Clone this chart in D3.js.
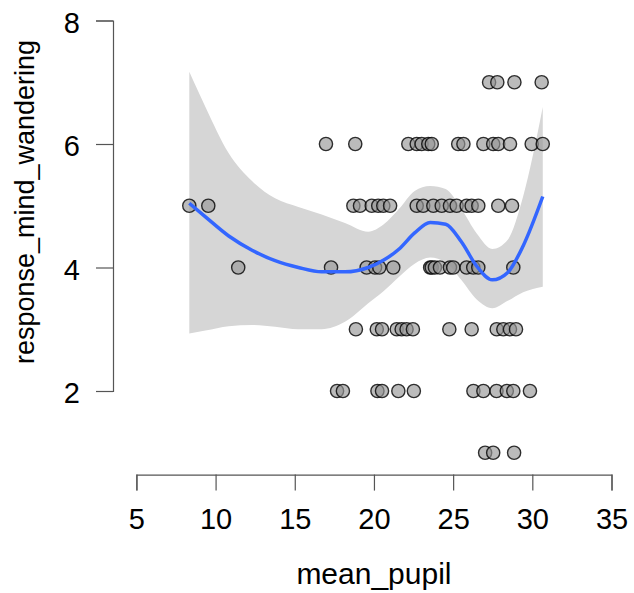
<!DOCTYPE html>
<html>
<head>
<meta charset="utf-8">
<script src="https://cdn.jsdelivr.net/npm/d3@7"></script>
<style>
  html, body { margin: 0; padding: 0; background: #fff; }
  svg { display: block; }
</style>
</head>
<body>
<div id="chart"></div>
<script>
// mean_pupil values, grouped by response_mind_wandering level
const pupilAt7 = [27.27, 27.79, 28.87, 30.59];
const pupilAt6 = [16.97, 18.82, 22.17, 22.70, 23.01, 23.43, 23.65, 25.32, 25.65, 26.91, 27.53, 27.85, 28.59, 29.96, 30.66];
const pupilAt5 = [8.34, 9.54, 18.70, 19.12, 19.86, 20.27, 20.59, 21.02, 22.70, 23.11, 23.75, 24.28, 24.80, 25.22, 25.85, 26.17, 26.59, 27.85, 28.72];
const pupilAt4 = [11.43, 17.29, 19.54, 20.07, 20.34, 21.22, 23.55, 23.65, 23.85, 24.17, 24.80, 25.01, 25.85, 26.27, 26.59, 28.80];
const pupilAt3 = [18.86, 20.18, 20.51, 21.44, 21.75, 22.06, 22.46, 24.76, 26.17, 27.75, 28.17, 28.59, 28.97];
const pupilAt2 = [17.67, 18.04, 20.22, 20.51, 21.54, 22.52, 26.28, 26.91, 27.74, 28.39, 28.80, 29.85];
const pupilAt1 = [27.02, 27.53, 28.85];

// smoother and its band
const smoothX     = [8.34, 9.36, 10.83, 12.30, 13.76, 15.23, 16.70, 18.17, 19.64, 20.62, 21.59, 22.57, 23.55, 24.53, 25.51, 26.49, 27.47, 28.45, 29.42, 30.66];
const smoothFit   = [5.04, 4.82, 4.51, 4.28, 4.11, 4.00, 3.93, 3.93, 4.00, 4.12, 4.30, 4.56, 4.73, 4.70, 4.42, 4.02, 3.80, 3.92, 4.35, 5.15];
const smoothLower = [2.93, 2.98, 3.05, 3.07, 3.04, 3.00, 3.00, 3.12, 3.42, 3.62, 3.85, 4.06, 4.16, 4.08, 3.80, 3.48, 3.34, 3.46, 3.60, 3.69];
const smoothUpper = [7.17, 6.60, 5.85, 5.40, 5.12, 4.98, 4.86, 4.72, 4.58, 4.70, 4.95, 5.24, 5.32, 5.27, 4.95, 4.55, 4.30, 4.45, 5.15, 6.60];

const xTicks = [5, 10, 15, 20, 25, 30, 35];
const yTicks = [2, 4, 6, 8];

const width = 634, height = 593;
const font = '"Liberation Sans", Arial, Helvetica, sans-serif';

const levels = [
  [7, pupilAt7], [6, pupilAt6], [5, pupilAt5], [4, pupilAt4],
  [3, pupilAt3], [2, pupilAt2], [1, pupilAt1]
];
const points = [];
levels.forEach(([resp, xs]) => xs.forEach(v => points.push({ x: v, y: resp })));

const band = smoothX.map((v, i) => ({ x: v, fit: smoothFit[i], lo: smoothLower[i], hi: smoothUpper[i] }));

const x = d3.scaleLinear().domain([5, 35]).range([136.4, 611.5]);
const y = d3.scaleLinear().domain([2, 8]).range([391, 20.5]);

const svg = d3.select('#chart').append('svg')
  .attr('width', width)
  .attr('height', height);

// confidence band
svg.append('path')
  .datum(band)
  .attr('fill', '#d6d6d6')
  .attr('d', d3.area()
    .curve(d3.curveMonotoneX)
    .x(d => x(d.x))
    .y0(d => y(d.lo))
    .y1(d => y(d.hi)));

// points
svg.append('g')
  .selectAll('circle')
  .data(points)
  .join('circle')
  .attr('cx', d => x(d.x))
  .attr('cy', d => y(d.y))
  .attr('r', 6.6)
  .attr('fill', 'rgba(150,150,150,0.65)')
  .attr('stroke', 'rgba(0,0,0,0.8)')
  .attr('stroke-width', 1.4);

// smooth line
svg.append('path')
  .datum(band)
  .attr('fill', 'none')
  .attr('stroke', '#3366FF')
  .attr('stroke-width', 3.5)
  .attr('d', d3.line()
    .curve(d3.curveMonotoneX)
    .x(d => x(d.x))
    .y(d => y(d.fit)));

// y axis
const yAxis = svg.append('g')
  .attr('transform', 'translate(113,0)')
  .call(d3.axisLeft(y).tickValues(yTicks).tickSize(17).tickPadding(16).tickFormat(d3.format('d')));
yAxis.select('.domain').attr('stroke', '#555').attr('stroke-width', 1.2);
yAxis.selectAll('.tick line').attr('stroke', '#555').attr('stroke-width', 1.2);
yAxis.selectAll('.tick text')
  .attr('fill', '#000')
  .attr('font-size', '29px')
  .attr('font-family', font)
  .attr('dy', '0.4em');

// x axis
const xAxis = svg.append('g')
  .attr('transform', 'translate(0,474.6)')
  .call(d3.axisBottom(x).tickValues(xTicks).tickSize(16).tickPadding(18).tickFormat(d3.format('d')));
xAxis.select('.domain').attr('stroke', '#555').attr('stroke-width', 1.2);
xAxis.selectAll('.tick line').attr('stroke', '#555').attr('stroke-width', 1.2);
xAxis.selectAll('.tick text')
  .attr('fill', '#000')
  .attr('font-size', '29px')
  .attr('font-family', font);

// axis titles
svg.append('text')
  .attr('x', (x(5) + x(35)) / 2)
  .attr('y', 584)
  .attr('text-anchor', 'middle')
  .attr('font-size', '30px')
  .attr('font-family', font)
  .text('mean_pupil');

svg.append('text')
  .attr('transform', 'translate(34,202) rotate(-90)')
  .attr('text-anchor', 'middle')
  .attr('font-size', '27px')
  .attr('font-family', font)
  .text('response_mind_wandering');
</script>
</body>
</html>
